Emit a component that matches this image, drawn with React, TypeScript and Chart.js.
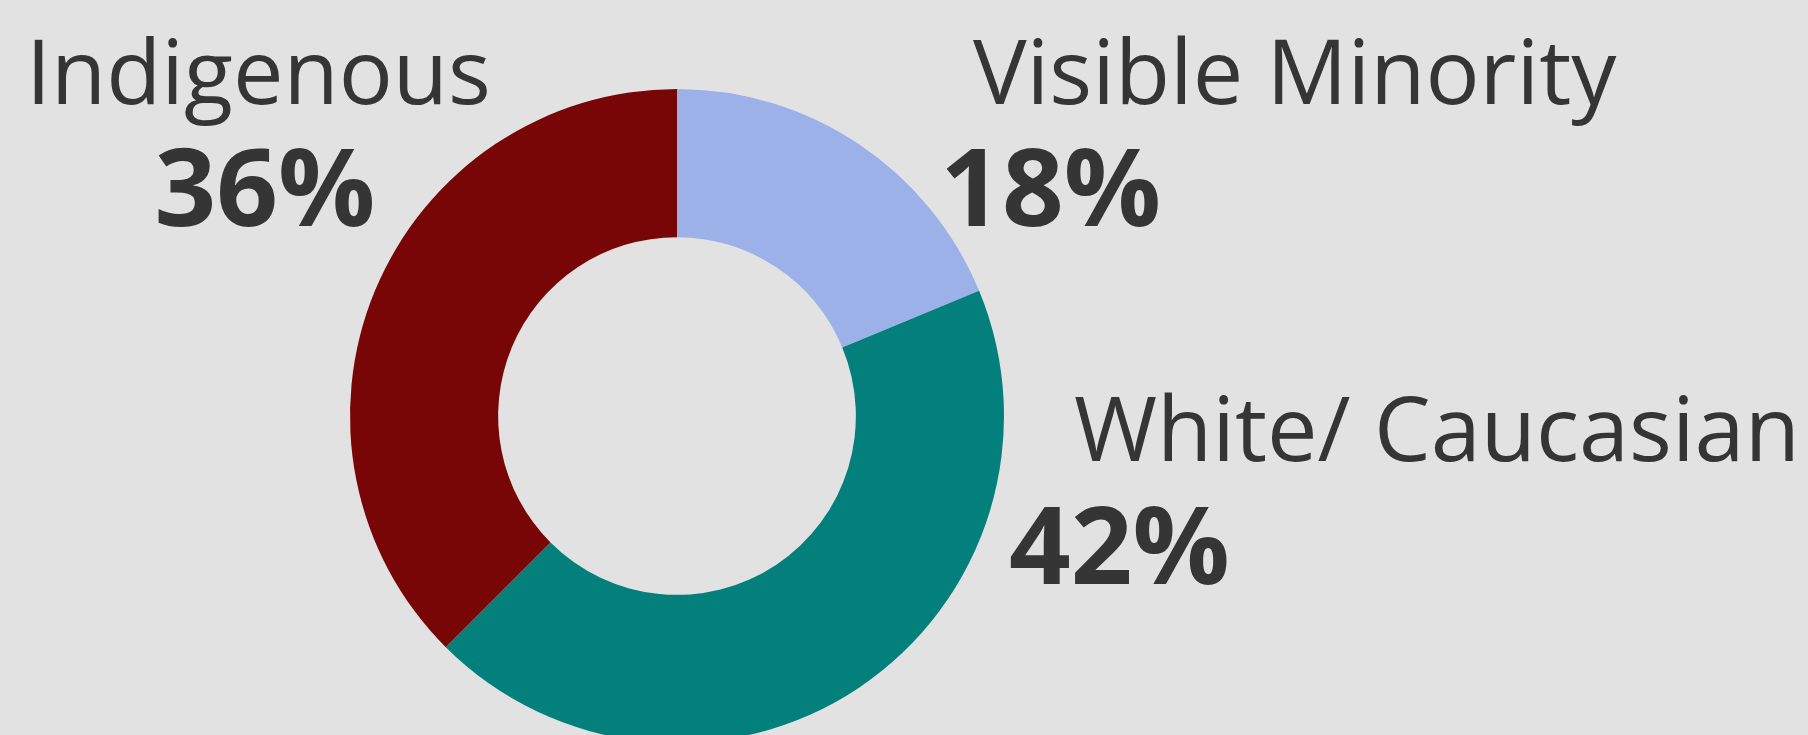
import React, { useEffect, useRef } from "react";
import { Chart, registerables } from "chart.js";

Chart.register(...registerables);

const categories = ["Visible Minority", "White/ Caucasian", "Indigenous"];
const values = [18, 42, 36];
const valueLabels = ["18%", "42%", "36%"];
const colors = ["#9bb1e8", "#03807c", "#780606"];

// label layout relative to doughnut centre, in units of outer radius
const labelLayout = [
  { align: "left", nameX: 0.905, nameY: -0.954, valX: 0.805, valY: -0.581 },
  { align: "left", nameX: 1.214, nameY: 0.138, valX: 1.015, valY: 0.515 },
  { align: "center", nameX: -1.28, nameY: -0.954, valX: -1.26, valY: -0.581 },
];

const labelPlugin = {
  id: "sliceLabels",
  afterDraw(chart: any) {
    const meta = chart.getDatasetMeta(0);
    const arc = meta.data[0];
    if (!arc) return;
    const { x, y, outerRadius } = arc.getProps(["x", "y", "outerRadius"], true);
    const ctx = chart.ctx;
    ctx.save();
    ctx.fillStyle = "#353535";
    ctx.textBaseline = "alphabetic";
    categories.forEach((name, i) => {
      const l = labelLayout[i];
      ctx.textAlign = l.align;
      ctx.font = '90px "Open Sans"';
      ctx.fillText(name, x + l.nameX * outerRadius, y + l.nameY * outerRadius);
      ctx.font = 'bold 108px "Open Sans"';
      ctx.fillText(valueLabels[i], x + l.valX * outerRadius, y + l.valY * outerRadius);
    });
    ctx.restore();
  },
};

export default function App() {
  const ref = useRef<HTMLCanvasElement>(null);
  useEffect(() => {
    document.body.style.background = "#e2e2e2";
    document.body.style.margin = "0";
    const chart = new Chart(ref.current!, {
      type: "doughnut",
      data: {
        labels: categories,
        datasets: [
          {
            data: values,
            backgroundColor: colors,
            borderWidth: 0,
          },
        ],
      },
      options: {
        animation: false,
        responsive: false,
        maintainAspectRatio: false,
        cutout: "54.7%",
        layout: { padding: { top: 89, bottom: 17, left: 350, right: 804 } },
        plugins: { legend: { display: false }, tooltip: { enabled: false } },
      },
      plugins: [labelPlugin],
    });
    return () => chart.destroy();
  }, []);
  return (
    <div style={{ position: "fixed", left: 0, top: 0, width: 1808, height: 760, background: "#e2e2e2" }}>
      <canvas ref={ref} width={1808} height={760} style={{ width: 1808, height: 760 }} />
    </div>
  );
}
